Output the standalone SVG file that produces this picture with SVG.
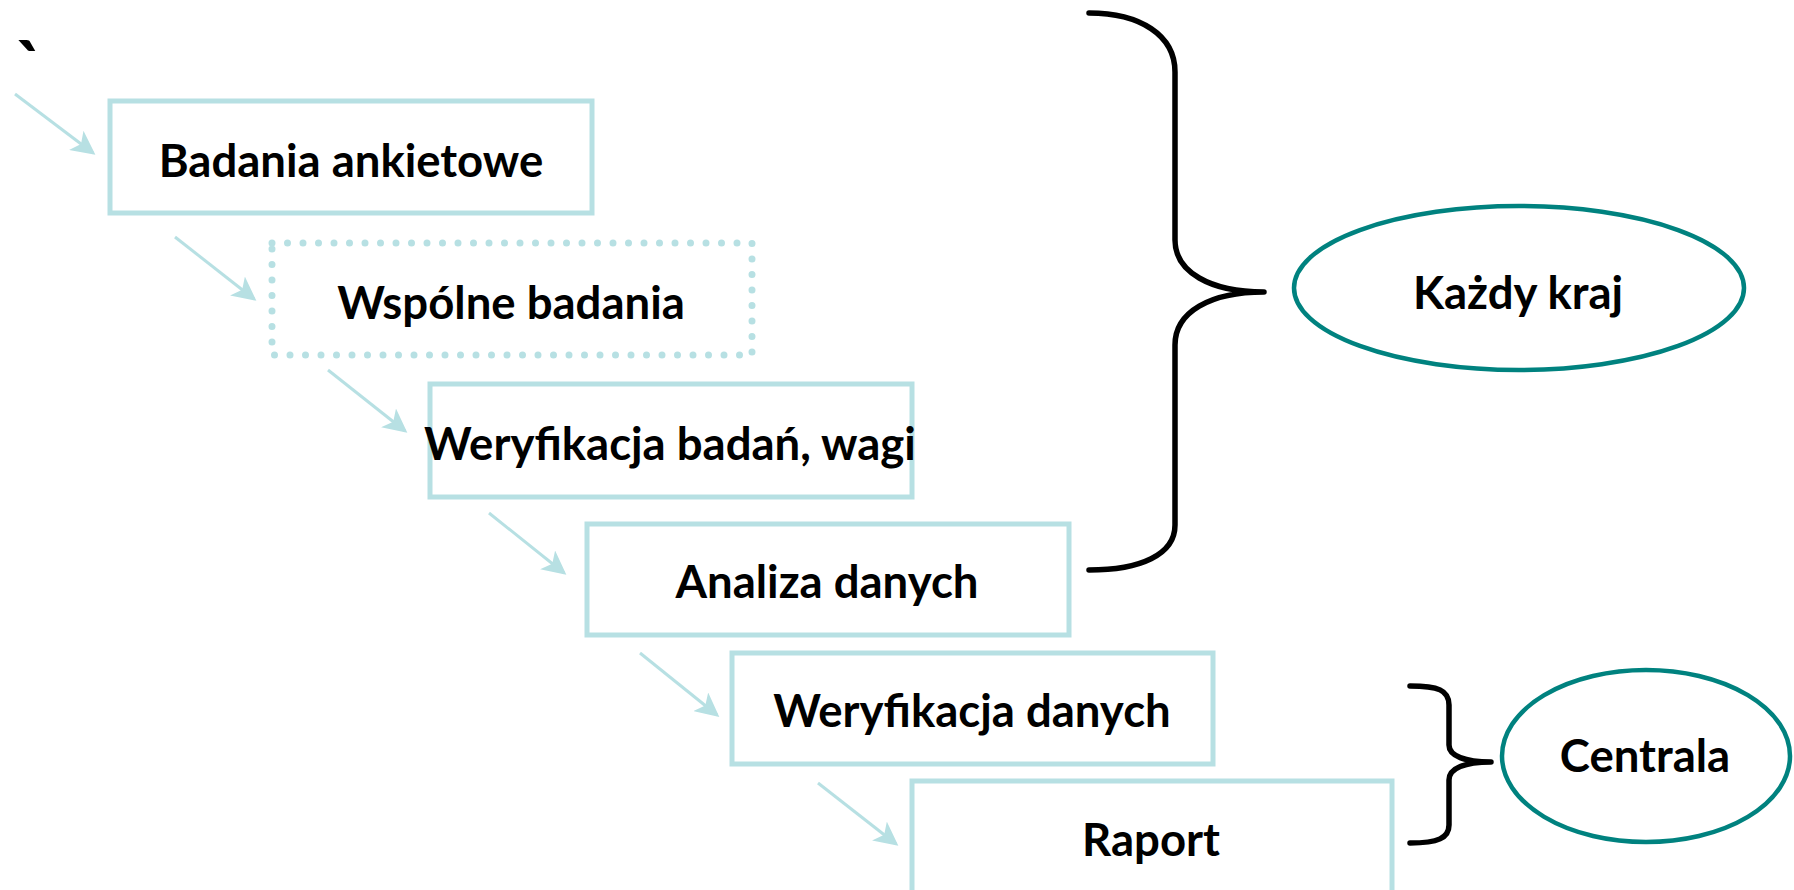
<svg xmlns="http://www.w3.org/2000/svg" width="1794" height="890" viewBox="0 0 1794 890">
<defs>
<marker id="ah" markerWidth="8" markerHeight="8" refX="7" refY="4" orient="auto" markerUnits="strokeWidth">
<path d="M0,0 L8,4 L0,8 L2,4 Z" fill="#b7e0e3"/>
</marker>
<style>
.box{fill:#fff;stroke:#b7e0e3;stroke-width:5}
.dot{fill:none;stroke:#b7e0e3;stroke-width:7;stroke-linecap:round;stroke-dasharray:0 15.5}
.lbl{font-family:Lato,"Liberation Sans",sans-serif;font-weight:700;font-size:45.5px;fill:#000;text-anchor:middle;dominant-baseline:central}
.arr{stroke:#b7e0e3;stroke-width:3;fill:none;marker-end:url(#ah)}
.brace{fill:none;stroke:#000;stroke-width:5.5;stroke-linecap:round;stroke-linejoin:round}
.ell{fill:#fff;stroke:#00827f;stroke-width:4.5}
</style>
</defs>
<rect width="1794" height="890" fill="#fff"/>
<text x="30" y="66" class="lbl" style="font-size:72px">`</text>
<g id="connectors">
<line class="arr" x1="15" y1="94" x2="93" y2="153"/>
<line class="arr" x1="175" y1="237" x2="254" y2="299"/>
<line class="arr" x1="328" y1="370" x2="405" y2="431"/>
<line class="arr" x1="489" y1="513" x2="564" y2="573"/>
<line class="arr" x1="640" y1="653" x2="717" y2="715"/>
<line class="arr" x1="818" y1="783" x2="896" y2="844"/>
</g>
<g id="n1"><rect class="box" x="110" y="101" width="482" height="112"/><text class="lbl" x="351" y="159">Badania ankietowe</text></g>
<g id="n2"><rect class="dot" x="272" y="243" width="480" height="112"/><text class="lbl" x="511" y="301">Wspólne badania</text></g>
<g id="n3"><rect class="box" x="430" y="384" width="482" height="113"/><text class="lbl" x="670" y="442">Weryfikacja badań, wagi</text></g>
<g id="n4"><rect class="box" x="587" y="524" width="482" height="111"/><text class="lbl" x="827" y="580">Analiza danych</text></g>
<g id="n5"><rect class="box" x="732" y="653" width="481" height="111"/><text class="lbl" x="972" y="709">Weryfikacja danych</text></g>
<g id="n6"><rect class="box" x="912" y="781" width="480" height="120"/><text class="lbl" x="1151" y="838">Raport</text></g>
<g id="brace1"><path class="brace" d="M1089,13 C1140,13 1175,35 1175,72 L1175,240 C1175,272 1210,292 1264,292 C1210,292 1175,312 1175,345 L1175,525 C1175,555 1140,570 1089,570"/></g>
<g id="brace2"><path class="brace" d="M1410,686 C1438,686 1449,690 1449,705 L1449,745 C1449,756 1465,762 1491,762 C1465,762 1449,768 1449,780 L1449,825 C1449,838 1438,843 1410,843"/></g>
<g id="e1"><ellipse class="ell" cx="1519" cy="288" rx="225" ry="82"/><text class="lbl" x="1518" y="291">Każdy kraj</text></g>
<g id="e2"><ellipse class="ell" cx="1646" cy="756" rx="144" ry="86"/><text class="lbl" x="1645" y="754">Centrala</text></g>
</svg>
